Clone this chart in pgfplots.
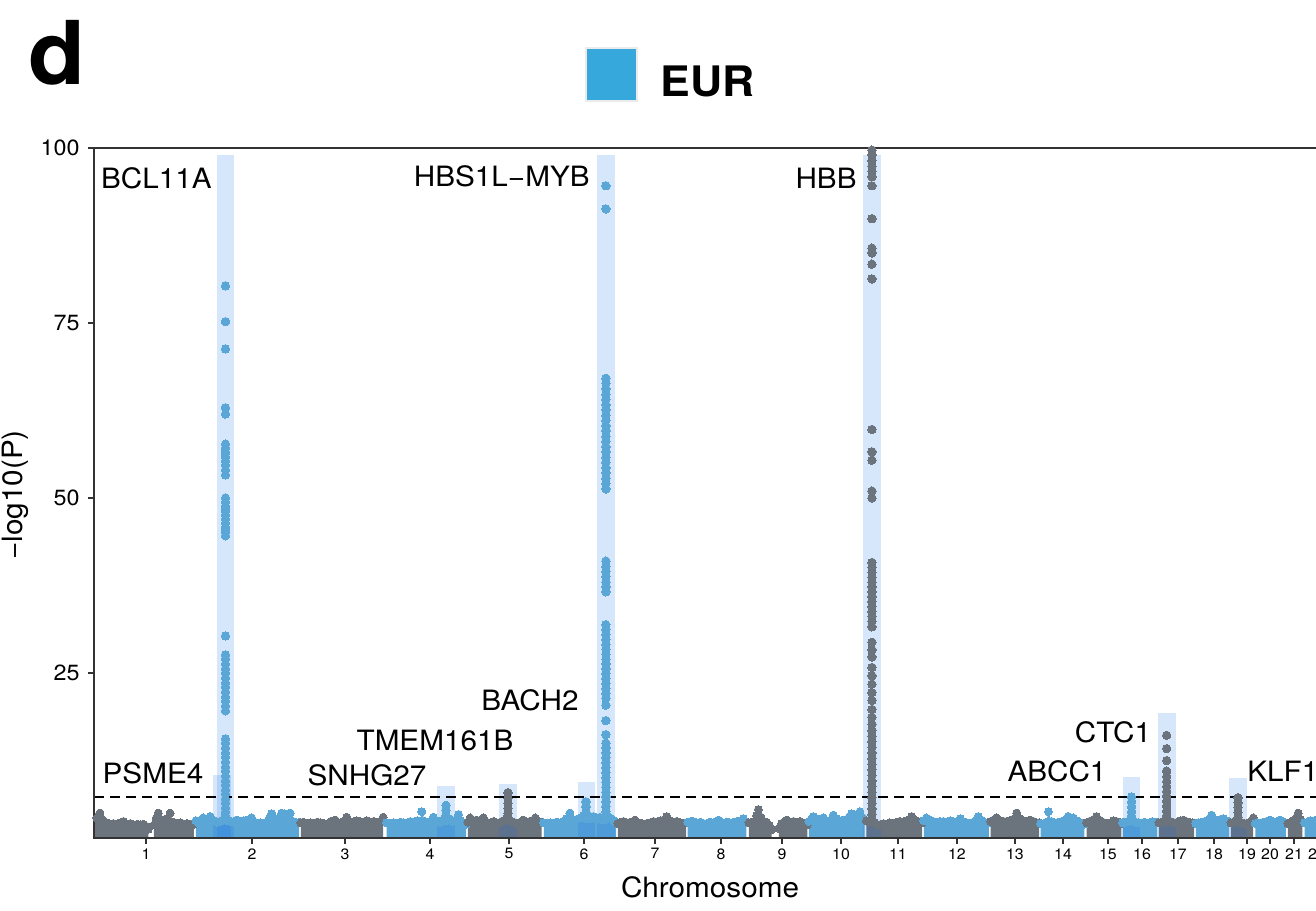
\documentclass[border=0pt]{standalone}
\usepackage{fontspec}
\setmainfont{TeX Gyre Heros}[FakeStretch=1.06]
\usepackage{pgfplots}
\pgfplotsset{compat=1.18}

\definecolor{chrgray}{RGB}{107,115,124}
\definecolor{chrblue}{RGB}{90,166,214}
\definecolor{hlblue}{RGB}{14,108,232}
\definecolor{axisgray}{RGB}{51,51,51}
\definecolor{legblue}{RGB}{55,168,220}

% dense background of each chromosome: upper envelope as dots, filled below
\newcommand{\carpet}[2]{\addplot[draw=none, fill=#1, mark=*, mark size=2pt,
  mark options={draw=#1, fill=#1, line width=0pt}] coordinates {#2} \closedcycle;}
% associated SNPs of a locus
\newcommand{\peak}[2]{\addplot[only marks, mark=*, mark size=2.1pt,
  mark options={draw=#1, fill=#1, line width=0pt}] coordinates {#2};}
% highlighted locus window
\newcommand{\hl}[3]{\fill[hlblue, opacity=0.17] (axis cs:#1,0) rectangle (axis cs:#2,#3);}
\newcommand{\genefont}{\fontsize{14}{16}\selectfont}

\begin{document}
\begin{tikzpicture}
\begin{axis}[
  at={(0,0)}, anchor=south west,
  x=0.2142pt, y=3.5pt,
  xmin=3.1, xmax=2950, ymin=1.43, ymax=100,
  axis on top,
  axis line style={axisgray, line width=1.2pt},
  tick pos=left, tick align=outside,
  major tick length=3pt,
  tick style={axisgray, line width=0.8pt},
  ytick={25,50,75,100},
  xtick={124.5,371.9,589,787.4,971.8,1146.9,1312.6,1466.7,1609,1746.8,1879.8,2017.5,2152.9,2265,2370,2449.4,2533.4,2617.5,2694.5,2748.2,2804.2,2858},
  xticklabels={1,2,3,4,5,6,7,8,9,10,11,12,13,14,15,16,17,18,19,20,21,22},
  /pgf/number format/assume math mode=true,
  yticklabel style={font=\fontsize{11}{12}\selectfont, inner sep=1pt, xshift=-3pt},
  xticklabel style={font=\fontsize{7.5}{9}\selectfont, inner sep=2pt},
]
% ---- chromosome backgrounds ----
\carpet{chrgray}{(2,4.9) (10,4.3) (17,5.0) (24,4.0) (32,3.6) (40,3.4) (48,3.5) (56,3.3) (64,3.6) (72,3.8) (80,3.4) (88,3.5) (96,3.3) (104,3.4) (112,3.3) (118,3.4) (125,3.1) (130,2.7)}
\carpet{chrgray}{(143,3.3) (148,4.2) (153,5.0) (160,4.0) (169,4.1) (175,4.2) (180.5,5.0) (188,3.7) (196,3.5) (204,3.6) (212,3.4) (220,3.5) (228,3.3) (236,3.4)}
\carpet{chrblue}{(241,3.9) (248,3.6) (258,4.3) (266,3.8) (274,4.5) (282,3.9) (290,3.7) (298,3.8) (306,4.0) (314,3.9) (322,3.8) (330,3.7) (336,4.0) (344,3.7) (352,3.9) (359,4.0) (366,3.8) (371,4.3) (378,3.7) (385,3.5) (391,3.6) (398,3.5) (406,3.7) (412,4.2) (418,4.9) (424,3.8) (430,4.0) (436,4.3) (441,5.0) (448,4.9) (454,4.4) (461,5.0) (468,3.8) (476,3.6) (482,3.7)}
\carpet{chrgray}{(486,3.6) (492,3.7) (500,3.5) (508,3.6) (516,3.4) (524,3.7) (532,3.6) (540,3.5) (548,3.4) (556,3.8) (566,4.0) (574,3.6) (582,3.7) (593,4.4) (600,3.8) (608,3.7) (616,3.9) (624,3.8) (632,3.6) (640,3.9) (648,3.7) (656,3.8) (664,3.5) (671,3.8) (678,4.4)}
\carpet{chrblue}{(686,3.6) (694,3.4) (702,3.6) (710,3.5) (718,3.7) (726,3.6) (734,3.5) (742,3.8) (750,3.6) (758,3.9) (764,3.7) (768,5.2) (776,3.8) (784,3.7) (795,4.4) (803,3.9) (811,3.7) (818,4.0) (825,3.9) (832,4.2) (840,3.8) (847,4.0) (854,4.8) (860,3.9) (866,3.5) (872,3.4)}
\carpet{chrgray}{(876,3.7) (881,4.3) (888,3.8) (896,4.0) (904,3.9) (912,4.3) (920,3.7) (928,3.6) (936,3.8) (944,3.5) (952,3.7) (960,3.9) (966,4.3) (974,3.9) (982,3.7) (990,3.5) (998,3.7) (1005,4.0) (1012,3.6) (1020,3.8) (1026,3.7) (1033,4.3) (1040,3.6) (1048,3.7)}
\carpet{chrblue}{(1053,3.6) (1060,3.5) (1068,3.6) (1076,3.5) (1084,3.7) (1091,3.5) (1098,3.8) (1106,4.2) (1114,5.0) (1122,4.0) (1130,4.1) (1138,4.3) (1145,4.6) (1152,4.2) (1160,4.2) (1169,4.5) (1176,4.1) (1184,4.4) (1191,4.0) (1198,4.1) (1208,4.3) (1215,4.0) (1222,3.7)}
\carpet{chrgray}{(1226,3.5) (1233,3.7) (1239,3.8) (1247,3.6) (1255,3.7) (1266,4.0) (1274,3.6) (1282,3.5) (1293,3.5) (1301,3.6) (1309,3.8) (1317,3.7) (1325,3.9) (1333,4.0) (1340,4.5) (1348,3.9) (1356,3.7) (1363,3.8) (1371,3.6) (1379,3.5) (1385,3.6)}
\carpet{chrblue}{(1389,3.7) (1396,3.8) (1402,3.8) (1410,3.6) (1418,3.7) (1426,3.5) (1433,3.5) (1441,3.7) (1449,3.6) (1455,3.8) (1461,4.0) (1468,3.7) (1476,3.6) (1483,3.7) (1488,3.5) (1496,3.7) (1504,3.8) (1512,3.9) (1519,4.2) (1526,3.7)}
\carpet{chrgray}{(1532,3.6) (1538,3.7) (1544,3.8) (1550,4.6) (1554,5.5) (1560,4.4) (1566,3.8) (1573,3.7) (1580,3.2) (1585,2.6)}
\carpet{chrgray}{(1602,2.8) (1608,3.5) (1614,3.7) (1620,4.0) (1628,3.7) (1636,3.8) (1644,3.6) (1651,3.8) (1658,3.6) (1665,3.5) (1668,3.3)}
\carpet{chrblue}{(1672,3.8) (1677,4.1) (1682,4.5) (1690,4.2) (1698,3.9) (1706,4.3) (1714,3.8) (1722,4.0) (1729,4.7) (1736,4.2) (1744,3.9) (1752,4.0) (1760,4.1) (1766,4.4) (1772,4.9) (1779,4.5) (1785,4.6) (1791,5.2) (1798,4.3) (1802,3.9)}
\carpet{chrgray}{(1806,3.9) (1812,3.7) (1819,3.8) (1826,3.6) (1833,3.3) (1840,3.4) (1846,3.5) (1853,3.3) (1861,3.6) (1869,3.5) (1877,3.7) (1884,3.8) (1892,3.6) (1900,3.9) (1906,4.1) (1912,4.5) (1919,4.0) (1926,3.8) (1932,3.7) (1936,3.6)}
\carpet{chrblue}{(1940,3.9) (1946,4.3) (1954,4.0) (1962,3.8) (1970,3.7) (1978,3.8) (1986,3.8) (1994,3.6) (2002,3.9) (2010,3.7) (2018,3.8) (2025,4.2) (2032,3.8) (2040,3.6) (2048,3.5) (2056,3.7) (2062,4.0) (2067,4.5) (2074,4.0) (2081,3.7) (2087,3.5) (2092,3.6)}
\carpet{chrgray}{(2096,3.8) (2103,4.0) (2110,4.3) (2118,3.9) (2126,3.8) (2133,3.8) (2140,3.9) (2148,4.1) (2157,5.0) (2164,4.2) (2172,3.9) (2180,3.8) (2188,4.0) (2196,3.8) (2203,3.5) (2209,3.6)}
\carpet{chrblue}{(2213,3.5) (2220,3.5) (2226,3.7) (2231,5.2) (2238,3.8) (2246,3.6) (2254,3.7) (2262,3.8) (2270,4.0) (2277,4.5) (2283,4.2) (2289,4.3) (2296,3.9) (2303,3.7) (2309,3.5) (2315,3.4)}
\carpet{chrgray}{(2320,3.6) (2327,3.8) (2335,4.0) (2343,4.5) (2350,4.0) (2358,3.7) (2367,3.5) (2375,3.6) (2383,3.9) (2390,3.8) (2397,3.7) (2401,3.5)}
\carpet{chrblue}{(2404,3.6) (2410,3.7) (2416,3.8) (2425,3.9) (2434,3.7) (2441,3.6) (2448,3.5) (2455,3.7) (2460,3.5) (2467,3.6) (2474,3.8) (2480,3.7) (2485,3.6)}
\carpet{chrgray}{(2489,3.6) (2495,3.7) (2507,3.8) (2516,3.8) (2524,3.6) (2532,3.7) (2539,3.9) (2546,4.0) (2553,3.8) (2560,3.7) (2567,3.6) (2571,3.5)}
\carpet{chrblue}{(2575,3.5) (2582,3.6) (2589,3.7) (2596,3.8) (2604,4.0) (2612,4.7) (2619,4.0) (2626,3.9) (2633,4.1) (2639,4.2) (2646,3.9) (2653,3.7)}
\carpet{chrgray}{(2657,3.6) (2663,3.7) (2673,3.8) (2682,3.6) (2689,3.5) (2695,3.3) (2701,3.7) (2709,4.3)}
\carpet{chrblue}{(2714,3.5) (2720,3.6) (2726,3.5) (2733,3.7) (2740,3.8) (2748,4.0) (2755,3.8) (2763,3.7) (2771,4.0) (2778,3.8) (2785,3.6)}
\carpet{chrgray}{(2790,3.5) (2797,3.7) (2803,3.9) (2809,4.3) (2814,5.0) (2819,4.1) (2824,3.7)}
\carpet{chrblue}{(2829,3.6) (2836,3.7) (2843,3.9) (2849,3.8) (2856,4.0) (2863,3.7) (2870,3.8) (2877,3.6) (2884,3.7)}

% ---- loci ----
% BCL11A
\peak{chrblue}{(310,80.3) (310,75.2) (310,71.3) (310,62.9) (310,62.0) (310,57.7) (310,57.1) (310,56.5) (310,55.9) (310,55.3) (310,54.7) (310,54.0) (310,53.3) (310,50.0) (310,49.4) (310,48.8) (310,48.2) (310,47.6) (310,47.0) (310,46.4) (310,45.8) (310,45.2) (310,44.6) (310,30.3) (310,27.6) (310,27.0) (310,26.3) (310,25.6) (310,25.0) (310,24.3) (310,23.6) (310,23.0) (310,22.3) (310,21.6) (310,21.0) (310,20.3) (310,19.6) (310,15.6) (310,15.0) (310,14.3) (310,13.6) (310,13.0) (310,12.3) (310,11.6) (310,11.0) (310,10.3) (310,9.6) (310,9.0) (310,8.3) (310,7.7) (310,7.0) (310,6.4) (310,5.7) (310,5.1) (310,4.5)}
% SNHG27
\peak{chrblue}{(824.8,6.1) (824.8,5.4) (824.8,4.7)}
% TMEM161B
\peak{chrgray}{(969.5,7.9) (969.5,7.1) (969.5,6.4) (969.5,5.7) (969.5,5.0) (969.5,4.4)}
% BACH2
\peak{chrblue}{(1151.5,6.6) (1151.5,5.9) (1151.5,5.1) (1151.5,4.4)}
% HBS1L-MYB
\peak{chrblue}{(1198,94.6) (1198,91.3) (1198,67.1) (1198,66.4) (1198,65.6) (1198,64.8) (1198,64.1) (1198,63.3) (1198,62.6) (1198,61.8) (1198,61.1) (1198,60.3) (1198,59.6) (1198,58.8) (1198,58.1) (1198,57.3) (1198,56.6) (1198,55.8) (1198,55.1) (1198,54.3) (1198,53.6) (1198,52.8) (1198,52.1) (1198,51.3) (1198,41.0) (1198,40.2) (1198,39.5) (1198,38.8) (1198,38.0) (1198,37.3) (1198,36.6) (1198,31.9) (1198,31.2) (1198,30.5) (1198,29.8) (1198,29.1) (1198,28.4) (1198,27.7) (1198,27.0) (1198,26.3) (1198,25.6) (1198,24.9) (1198,24.2) (1198,23.5) (1198,22.8) (1198,22.1) (1198,21.4) (1198,20.4) (1198,18.2) (1198,16.2) (1198,15.0) (1198,14.3) (1198,13.6) (1198,12.9) (1198,12.2) (1198,11.5) (1198,10.8) (1198,10.1) (1198,9.4) (1198,8.7) (1198,8.0) (1198,7.3) (1198,6.6) (1198,5.9) (1198,5.2) (1198,4.5)}
% HBB
\peak{chrgray}{(1819,99.7) (1819,99.0) (1819,98.2) (1819,97.4) (1819,96.7) (1819,95.9) (1819,94.6) (1819,89.9) (1819,85.7) (1819,85.0) (1819,83.4) (1819,81.3) (1819,59.8) (1819,56.6) (1819,55.4) (1819,51.0) (1819,50.0) (1819,40.8) (1819,40.1) (1819,39.4) (1819,38.7) (1819,38.0) (1819,37.3) (1819,36.6) (1819,35.9) (1819,35.2) (1819,34.5) (1819,33.8) (1819,33.1) (1819,32.4) (1819,31.6) (1819,29.4) (1819,28.3) (1819,27.3) (1819,25.8) (1819,24.6) (1819,23.4) (1819,22.2) (1819,21.1) (1819,19.8) (1819,18.7) (1819,17.7) (1819,16.8) (1819,16.0) (1819,15.2) (1819,14.4) (1819,13.6) (1819,12.8) (1819,12.0) (1819,11.2) (1819,10.4) (1819,9.6) (1819,8.8) (1819,8.0) (1819,7.2) (1819,6.4) (1819,5.6) (1819,4.8) (1819,4.1)}
% ABCC1
\peak{chrblue}{(2425,7.3) (2425,6.6) (2425,5.9) (2425,5.2) (2425,4.5)}
% CTC1
\peak{chrgray}{(2507,16.1) (2507,14.2) (2507,12.5) (2507,11.0) (2507,10.2) (2507,9.5) (2507,8.8) (2507,8.1) (2507,7.4) (2507,6.7) (2507,6.0) (2507,5.3) (2507,4.6)}
% KLF1
\peak{chrgray}{(2673.5,7.2) (2673.5,6.5) (2673.5,5.8) (2673.5,5.1) (2673.5,4.4)}

% ---- highlighted windows ----
\hl{280.5}{322.5}{10.4}
\hl{290.2}{329.9}{99}
\hl{803.8}{845.8}{8.9}
\hl{948.5}{990.5}{9.1}
\hl{1133}{1172.6}{9.4}
\hl{1177.2}{1219.2}{99}
\hl{1798}{1840}{99}
\hl{2404.3}{2445.8}{10.1}
\hl{2486}{2528}{19.3}
\hl{2652.5}{2694.5}{10.0}

% genome-wide significance
\addplot[black, line width=1pt, dash pattern=on 5pt off 3pt] coordinates {(3.1,7.3) (2950,7.3)};

% ---- gene labels ----
\node[anchor=east, font=\genefont, inner sep=0pt] at (axis cs:278.5,95.7) {BCL11A};
\node[anchor=east, font=\genefont, inner sep=0pt] at (axis cs:1160.9,96) {HBS1L\char"2212 MYB};
\node[anchor=east, font=\genefont, inner sep=0pt] at (axis cs:1784,95.7) {HBB};
\node[font=\genefont, inner sep=0pt] at (axis cs:1020.8,21.1) {BACH2};
\node[font=\genefont, inner sep=0pt] at (axis cs:799,15.4) {TMEM161B};
\node[font=\genefont, inner sep=0pt] at (axis cs:640.3,10.4) {SNHG27};
\node[font=\genefont, inner sep=0pt] at (axis cs:140.8,10.7) {PSME4};
\node[font=\genefont, inner sep=0pt] at (axis cs:2251,10.9) {ABCC1};
\node[font=\genefont, inner sep=0pt] at (axis cs:2381.7,16.6) {CTC1};
\node[anchor=west, font=\genefont, inner sep=0pt] at (axis cs:2694.5,10.9) {KLF1};
\end{axis}

% axis titles, legend and panel letter
\node[anchor=base, font=\fontsize{14}{16}\selectfont, inner sep=0pt] at (308pt,-29.5pt) {Chromosome};
\node[rotate=90, font=\fontsize{14}{16}\selectfont, inner sep=0pt] at (-39.5pt,171.5pt) {\char"2212 log10(P)};
\fill[legblue, draw=black!8, line width=0.6pt] (246pt,368.5pt) rectangle (271.5pt,395pt);
\node[anchor=base west, font=\fontsize{21}{24}\selectfont\bfseries, inner sep=0pt] at (283pt,370.5pt) {EUR};
\node[anchor=base west, font=\fontsize{44}{48}\selectfont\bfseries, inner sep=0pt] at (-33pt,376.5pt) {d};

\pgfresetboundingbox
\useasboundingbox (-47pt,-36pt) rectangle (611pt,419pt);
\end{tikzpicture}
\end{document}
